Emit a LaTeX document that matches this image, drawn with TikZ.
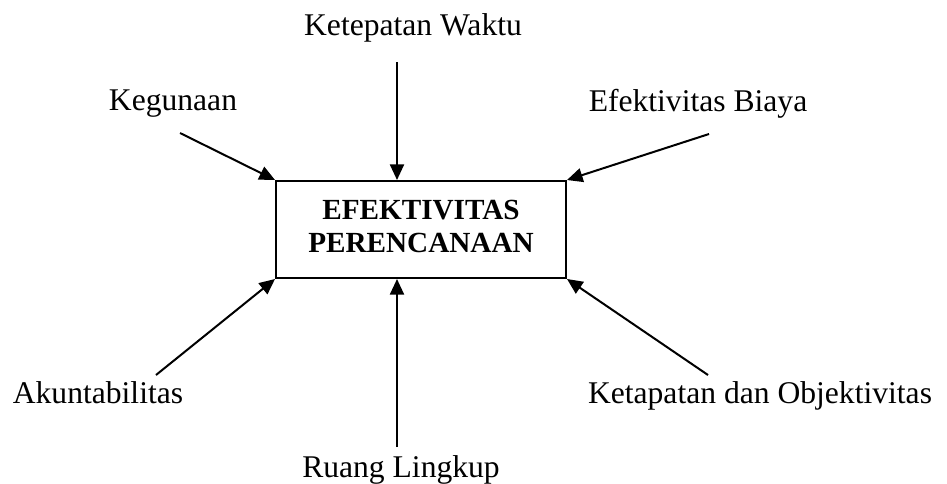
\documentclass[tikz,border=0pt]{standalone}
\usepackage{fontspec}
\setmainfont{Liberation Serif}
\usetikzlibrary{arrows.meta}
\begin{document}
\begin{tikzpicture}[x=0.5pt,y=-0.5pt,
  lbl/.style={anchor=base,inner sep=0pt,font=\fontsize{15.8}{16.5}\selectfont},
  mainbox/.style={draw,line width=1pt,minimum width=145pt,minimum height=48.5pt,
    inner sep=0pt,align=center,text depth=3pt,
    font=\fontsize{14.6}{16.5}\selectfont\bfseries},
  link/.style={line width=1pt,-{Triangle[length=7.8pt,width=7pt]}}]
  \useasboundingbox (0,0) rectangle (947,483);

  % central box
  \node[mainbox] (box) at (421,229.5) {EFEKTIVITAS\\PERENCANAAN};

  % surrounding labels
  \node[lbl] (waktu) at (413,35) {Ketepatan Waktu};
  \node[lbl] (guna) at (173,110) {Kegunaan};
  \node[lbl] (biaya) at (698,111) {Efektivitas Biaya};
  \node[lbl] (akun) at (98,403) {Akuntabilitas};
  \node[lbl] (objek) at (760,403) {Ketapatan dan Objektivitas};
  \node[lbl] (ruang) at (401,477) {Ruang Lingkup};

  % free ends of the connectors
  \coordinate (sWaktu) at (397,62);
  \coordinate (sGuna) at (180,133);
  \coordinate (sBiaya) at (709,134);
  \coordinate (sAkun) at (156,375);
  \coordinate (sObjek) at (708,375);
  \coordinate (sRuang) at (397,447);

  \draw[link] (sWaktu) -- (box.north -| sWaktu);
  \draw[link] (sGuna) -- (box.north west);
  \draw[link] (sBiaya) -- (box.north east);
  \draw[link] (sAkun) -- (box.south west);
  \draw[link] (sObjek) -- (box.south east);
  \draw[link] (sRuang) -- (box.south -| sRuang);
\end{tikzpicture}
\end{document}
